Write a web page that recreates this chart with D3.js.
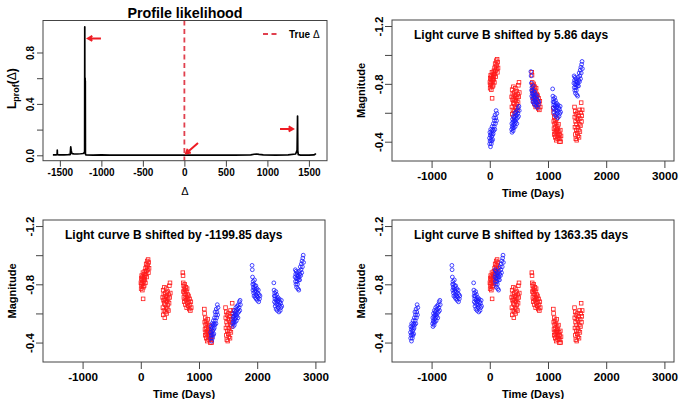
<!DOCTYPE html>
<html>
<head>
<meta charset="utf-8">
<script src="https://cdn.jsdelivr.net/npm/d3@7"></script>
<style>
  body { margin: 0; background: #fff; }
  text { font-family: "Liberation Sans", Arial, Helvetica, sans-serif; font-weight: bold; fill: #000; }
</style>
</head>
<body>
<div id="chart"></div>
<script>
// ---- data ----
// profile likelihood, [delta, L_prof]
var profile = [
  [-1584, 0.004], [-1560, 0.004], [-1540, 0.004], [-1533, 0.005], [-1531, 0.04], [-1529, 0.005],
  [-1510, 0.004], [-1450, 0.004], [-1400, 0.005], [-1375, 0.006], [-1369, 0.065], [-1364, 0.04],
  [-1358, 0.02], [-1350, 0.012], [-1330, 0.011], [-1290, 0.01], [-1250, 0.012], [-1220, 0.014],
  [-1205, 0.02], [-1201.5, 0.03], [-1199.85, 1.0], [-1198.8, 0.05], [-1197.5, 0.6], [-1196.5, 0.1],
  [-1195.5, 0.6], [-1194.5, 0.06], [-1193.5, 0.58], [-1192, 0.01], [-1185, 0.003], [-1100, 0.002],
  [-1000, 0.003], [-900, 0.002], [-700, 0.002], [-500, 0.002], [-300, 0.002], [-100, 0.002],
  [0, 0.002], [200, 0.002], [400, 0.002], [600, 0.002], [800, 0.004], [840, 0.008], [870, 0.01],
  [900, 0.007], [950, 0.003], [1100, 0.002], [1250, 0.003], [1340, 0.01], [1352, 0.03],
  [1358, 0.04], [1363.35, 0.306], [1366, 0.035], [1372, 0.005], [1400, 0.002], [1500, 0.002],
  [1560, 0.003], [1575, 0.008], [1584, 0.014]
];
var trueDelta = 0;
var deltaTicks = [-1500, -1000, -500, 0, 500, 1000, 1500];
var lTicks = [0, 0.2, 0.4, 0.6, 0.8];
var lLabelled = [0, 0.4, 0.8];
// arrows [x0, y0, x1, y1] in data units, head at end
var arrows = [
  [-1005, 0.909, -1161, 0.909],
  [1152, 0.205, 1308, 0.205],
  [164, 0.096, 19, 0.014]
];

// light curve A (red squares), [time, magnitude]
var curveA = [
  [2,-0.81],[6,-0.77],[9,-0.84],[13,-0.80],[16,-0.86],[20,-0.79],[23,-0.83],[27,-0.76],[30,-0.85],
  [34,-0.81],[37,-0.88],[40,-0.70],[44,-0.78],[47,-0.84],[51,-0.82],[55,-0.87],[58,-0.79],[62,-0.85],
  [66,-0.83],[70,-0.89],[74,-0.86],[79,-0.81],[83,-0.91],[88,-0.87],[92,-0.94],[97,-0.89],[101,-0.85],
  [106,-0.92],[110,-0.96],[115,-0.90],[120,-0.93],[126,-0.97],[131,-0.88],[137,-0.95],[142,-0.91],

  [376,-0.71],[380,-0.64],[384,-0.76],[387,-0.59],[391,-0.69],[395,-0.73],[398,-0.62],[402,-0.67],
  [406,-0.78],[409,-0.70],[413,-0.57],[417,-0.66],[420,-0.74],[424,-0.61],[428,-0.69],[431,-0.72],
  [435,-0.64],[439,-0.77],[443,-0.60],[447,-0.68],[451,-0.71],[455,-0.63],[460,-0.75],[465,-0.66],
  [470,-0.70],[475,-0.62],[480,-0.73],[486,-0.67],[491,-0.79],[496,-0.71],[502,-0.81],[507,-0.74],

  [722,-0.88],[726,-0.86],[729,-0.81],[733,-0.75],[737,-0.79],[740,-0.71],[744,-0.77],[748,-0.68],
  [751,-0.74],[755,-0.80],[759,-0.70],[763,-0.76],[767,-0.66],[771,-0.73],[775,-0.78],[779,-0.69],
  [783,-0.75],[788,-0.64],[792,-0.71],[796,-0.77],[801,-0.67],[805,-0.73],[810,-0.70],[815,-0.65],
  [820,-0.72],[826,-0.68],[832,-0.63],[838,-0.70],[845,-0.66],[852,-0.62],[860,-0.68],[867,-0.64],

  [1092,-0.63],[1096,-0.60],[1099,-0.54],[1103,-0.49],[1107,-0.57],[1110,-0.45],[1114,-0.52],
  [1118,-0.47],[1121,-0.55],[1125,-0.43],[1129,-0.50],[1133,-0.46],[1137,-0.53],[1141,-0.41],
  [1145,-0.48],[1149,-0.56],[1153,-0.44],[1157,-0.51],[1161,-0.47],[1165,-0.42],[1170,-0.49],
  [1175,-0.45],[1180,-0.52],[1185,-0.43],[1190,-0.47],[1195,-0.40],[1200,-0.45],[1206,-0.42],
  [1212,-0.48],[1218,-0.40],[1224,-0.44],

  [1456,-0.64],[1460,-0.57],[1463,-0.50],[1467,-0.61],[1471,-0.45],[1474,-0.54],[1478,-0.42],
  [1482,-0.59],[1486,-0.48],[1490,-0.52],[1494,-0.41],[1498,-0.56],[1502,-0.46],[1506,-0.60],
  [1510,-0.50],[1514,-0.44],[1518,-0.55],[1523,-0.48],[1528,-0.58],[1533,-0.43],[1538,-0.52],
  [1543,-0.62],[1548,-0.47],[1553,-0.56],[1558,-0.51],[1564,-0.60],[1570,-0.67],[1575,-0.54],
  [1581,-0.58],[1587,-0.62]
];

// light curve B (blue circles), unshifted, [time, magnitude]
var curveB = [
  [1,-0.47],[4,-0.43],[8,-0.51],[11,-0.45],[15,-0.49],[18,-0.41],[22,-0.53],[25,-0.46],[29,-0.50],
  [32,-0.43],[36,-0.48],[40,-0.52],[43,-0.45],[47,-0.55],[51,-0.49],[55,-0.46],[59,-0.53],[63,-0.50],
  [67,-0.57],[72,-0.52],[77,-0.61],[82,-0.55],[87,-0.59],[92,-0.53],[97,-0.63],[103,-0.57],
  [109,-0.61],[115,-0.66],[121,-0.59],[127,-0.64],

  [381,-0.53],[385,-0.57],[388,-0.51],[392,-0.55],[396,-0.60],[399,-0.54],[403,-0.58],[407,-0.52],
  [411,-0.62],[414,-0.56],[418,-0.59],[422,-0.54],[426,-0.61],[430,-0.57],[434,-0.64],[438,-0.59],
  [442,-0.55],[446,-0.62],[450,-0.58],[455,-0.65],[460,-0.60],[465,-0.63],[470,-0.57],[476,-0.66],
  [482,-0.61],[488,-0.64],[494,-0.68],[500,-0.62],[506,-0.69],[512,-0.66],

  [712,-0.93],[716,-0.90],[720,-0.85],[724,-0.80],[727,-0.76],[731,-0.82],[735,-0.78],[739,-0.74],
  [742,-0.80],[746,-0.72],[750,-0.77],[754,-0.83],[758,-0.75],[762,-0.79],[766,-0.71],[770,-0.76],
  [774,-0.73],[778,-0.79],[782,-0.70],[787,-0.75],[792,-0.72],[797,-0.77],[802,-0.69],[808,-0.74],
  [814,-0.71],[820,-0.76],[826,-0.68],[833,-0.73],[840,-0.70],[848,-0.72],

  [1086,-0.81],[1090,-0.76],[1094,-0.72],[1097,-0.68],[1101,-0.74],[1105,-0.70],[1109,-0.65],
  [1113,-0.72],[1117,-0.67],[1121,-0.75],[1125,-0.63],[1129,-0.69],[1133,-0.73],[1137,-0.66],
  [1141,-0.70],[1145,-0.62],[1149,-0.68],[1154,-0.71],[1159,-0.64],[1164,-0.69],[1169,-0.66],
  [1174,-0.61],[1179,-0.70],[1184,-0.65],[1190,-0.68],[1196,-0.62],[1202,-0.67],[1208,-0.64],
  [1215,-0.69],[1222,-0.65],

  [1451,-0.85],[1455,-0.90],[1458,-0.82],[1462,-0.87],[1466,-0.80],[1470,-0.89],[1473,-0.84],
  [1477,-0.78],[1481,-0.86],[1485,-0.82],[1489,-0.88],[1493,-0.80],[1497,-0.84],[1501,-0.77],
  [1505,-0.86],[1510,-0.83],[1515,-0.76],[1520,-0.85],[1525,-0.89],[1530,-0.83],[1535,-0.87],
  [1541,-0.92],[1547,-0.86],[1553,-0.90],[1559,-0.94],[1565,-0.88],[1571,-0.96],[1577,-0.92],
  [1584,-0.98],[1591,-1.00],[1597,-0.95]
];

var shifts = [5.86, -1199.85, 1363.35];   // delay applied to B in each panel
var magOffsets = [0.045, 0, 0];           // magnitude offset applied to B
var timeTicks = [-1000, 0, 1000, 2000, 3000];
var magTicks = [-1.2, -1.0, -0.8, -0.6, -0.4];
var magLabelled = [-1.2, -0.8, -0.4];

// ---- layout ----
var W = 680, H = 399;
var svg = d3.select('#chart').append('svg')
  .attr('width', W).attr('height', H)
  .style('background', '#fff');

var axisCol = '#444';

function cleanAxis(sel, fs) {
  sel.select('.domain').remove();
  sel.selectAll('line').attr('stroke', axisCol).attr('stroke-width', 1);
  sel.selectAll('text').style('font-size', fs + 'px');
}

function rotateYLabels(sel, off) {
  sel.selectAll('text')
    .attr('x', 0).attr('y', 0)
    .attr('dy', '0.35em')
    .attr('text-anchor', 'middle')
    .attr('transform', 'translate(' + (-off) + ',0) rotate(-90)');
}

// ---- profile likelihood panel ----
(() => {
  var b = { l: 43, r: 327, t: 20.5, b: 160.7 };
  var g = svg.append('g');

  var x = d3.scaleLinear().domain([-1703, 1718]).range([b.l, b.r]);
  var y = d3.scaleLinear().domain([-0.042, 1.049]).range([b.b, b.t]);

  g.append('g')
    .attr('transform', 'translate(0,' + b.b + ')')
    .call(d3.axisBottom(x).tickValues(deltaTicks).tickSize(6).tickPadding(2.6).tickFormat(d => String(d)))
    .call(s => cleanAxis(s, 10));

  g.append('g')
    .attr('transform', 'translate(' + b.l + ',0)')
    .call(d3.axisLeft(y).tickValues(lTicks).tickSize(6)
      .tickFormat(d => lLabelled.indexOf(d) >= 0 ? d.toFixed(1) : ''))
    .call(s => cleanAxis(s, 10))
    .call(s => rotateYLabels(s, 13));

  // true delta
  g.append('line')
    .attr('x1', x(trueDelta)).attr('x2', x(trueDelta))
    .attr('y1', b.t).attr('y2', b.b)
    .attr('stroke', '#e0404e').attr('stroke-width', 1.8)
    .attr('stroke-dasharray', '5,3.5');

  var line = d3.line().x(d => x(d[0])).y(d => y(d[1]));
  g.append('path')
    .datum(profile)
    .attr('d', line)
    .attr('fill', 'none')
    .attr('stroke', '#000')
    .attr('stroke-width', 1.7)
    .attr('stroke-linejoin', 'round');

  // arrows
  arrows.forEach(a => {
    var x0 = x(a[0]), y0 = y(a[1]), x1 = x(a[2]), y1 = y(a[3]);
    var ang = Math.atan2(y1 - y0, x1 - x0), hl = 5, ha = Math.PI / 6;
    g.append('path')
      .attr('d', 'M' + x0 + ',' + y0 + 'L' + x1 + ',' + y1 +
        'M' + (x1 - hl * Math.cos(ang - ha)) + ',' + (y1 - hl * Math.sin(ang - ha)) +
        'L' + x1 + ',' + y1 +
        'L' + (x1 - hl * Math.cos(ang + ha)) + ',' + (y1 - hl * Math.sin(ang + ha)))
      .attr('fill', 'none')
      .attr('stroke', '#ee1c24')
      .attr('stroke-width', 2);
  });

  // box
  g.append('rect')
    .attr('x', b.l).attr('y', b.t)
    .attr('width', b.r - b.l).attr('height', b.b - b.t)
    .attr('fill', 'none').attr('stroke', axisCol);

  // legend
  g.append('line')
    .attr('x1', b.r - 64).attr('x2', b.r - 48)
    .attr('y1', b.t + 13.5).attr('y2', b.t + 13.5)
    .attr('stroke', '#e0404e').attr('stroke-width', 1.8)
    .attr('stroke-dasharray', '5,3.5');
  var lt = g.append('text')
    .attr('x', b.r - 38).attr('y', b.t + 17.2)
    .style('font-size', '10px');
  lt.append('tspan').text('True ');
  lt.append('tspan').style('font-weight', 'normal').text('\u0394');

  // titles
  g.append('text')
    .attr('x', (b.l + b.r) / 2).attr('y', 17.8)
    .attr('text-anchor', 'middle')
    .style('font-size', '14.3px')
    .text('Profile likelihood');

  g.append('text')
    .attr('x', (b.l + b.r) / 2).attr('y', 194.5)
    .attr('text-anchor', 'middle')
    .style('font-size', '11px').style('font-weight', 'normal')
    .text('\u0394');

  var yl = g.append('text')
    .attr('transform', 'translate(16,' + ((b.t + b.b) / 2 - 2) + ') rotate(-90)')
    .attr('text-anchor', 'middle')
    .style('font-size', '12px');
  yl.append('tspan').text('L');
  yl.append('tspan').attr('dy', 3).style('font-size', '9px').text('prof');
  yl.append('tspan').attr('dy', -3).text('(');
  yl.append('tspan').style('font-weight', 'normal').text('\u0394');
  yl.append('tspan').text(')');
})();

// ---- light curve panels ----
var boxes = [
  { l: 392, r: 674, t: 20, b: 161 },
  { l: 43, r: 325, t: 220, b: 362 },
  { l: 392, r: 674, t: 220, b: 362 }
];

boxes.forEach((b, i) => {
  var g = svg.append('g');
  var x = d3.scaleLinear().domain([-1680, 3165]).range([b.l, b.r]);
  var y = d3.scaleLinear().domain([-1.2415, -0.2665]).range([b.t, b.b]);

  g.append('g')
    .attr('transform', 'translate(0,' + b.b + ')')
    .call(d3.axisBottom(x).tickValues(timeTicks).tickSize(7).tickPadding(3.6).tickFormat(d => String(d)))
    .call(s => cleanAxis(s, 11.7));

  g.append('g')
    .attr('transform', 'translate(' + b.l + ',0)')
    .call(d3.axisLeft(y).tickValues(magTicks).tickSize(7)
      .tickFormat(d => magLabelled.indexOf(d) >= 0 ? d.toFixed(1) : ''))
    .call(s => cleanAxis(s, 11.5))
    .call(s => rotateYLabels(s, 12.8));

  // curve A
  g.append('g').selectAll('rect')
    .data(curveA)
    .enter()
      .append('rect')
      .attr('x', d => x(d[0]) - 1.8)
      .attr('y', d => y(d[1]) - 1.8)
      .attr('width', 3.6).attr('height', 3.6)
      .attr('fill', 'none')
      .attr('stroke', '#ff1a1a')
      .attr('stroke-width', 0.8);

  // curve B, shifted
  g.append('g').selectAll('circle')
    .data(curveB)
    .enter()
      .append('circle')
      .attr('cx', d => x(d[0] - shifts[i]))
      .attr('cy', d => y(d[1] + magOffsets[i]))
      .attr('r', 1.9)
      .attr('fill', 'none')
      .attr('stroke', '#1a1aff')
      .attr('stroke-width', 0.8);

  g.append('rect')
    .attr('x', b.l).attr('y', b.t)
    .attr('width', b.r - b.l).attr('height', b.b - b.t)
    .attr('fill', 'none').attr('stroke', axisCol);

  g.append('text')
    .attr('x', b.l + 22).attr('y', b.t + 19.3)
    .style('font-size', '12px')
    .text('Light curve B shifted by ' + shifts[i] + ' days');

  g.append('text')
    .attr('x', (b.l + b.r) / 2).attr('y', b.b + 35.5)
    .attr('text-anchor', 'middle')
    .style('font-size', '11px')
    .text('Time (Days)');

  g.append('text')
    .attr('transform', 'translate(' + (b.l - 27.5) + ',' + ((b.t + b.b) / 2) + ') rotate(-90)')
    .attr('text-anchor', 'middle')
    .style('font-size', '11px')
    .text('Magnitude');
});
</script>
</body>
</html>
